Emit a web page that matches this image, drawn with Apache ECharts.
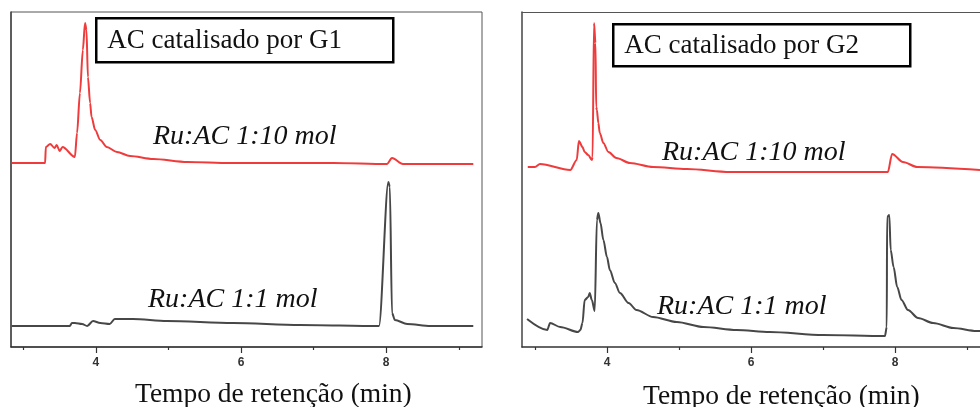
<!DOCTYPE html>
<html>
<head>
<meta charset="utf-8">
<script src="https://cdn.jsdelivr.net/npm/echarts@6/dist/echarts.min.js"></script>
<style>
  html, body { margin: 0; padding: 0; background: #fff; }
  #chart { width: 980px; height: 407px; }
</style>
</head>
<body>
<div id="chart"></div>
<script>
// Chromatograms, time in min vs detector signal (arbitrary units)
const g1Ratio10 = [
  [2.84, 184], [3.30, 184], [3.31, 200], [3.37, 203], [3.43, 199], [3.46, 202],
  [3.50, 196], [3.54, 200], [3.71, 190], [3.74, 214], [3.78, 254], [3.82, 297],
  [3.85, 324], [3.87, 317], [3.89, 270], [3.92, 244], [3.94, 230], [3.99, 217],
  [4.06, 207], [4.15, 200], [4.29, 195], [4.47, 191], [4.79, 188], [5.26, 185],
  [5.85, 184], [7.27, 184], [8.01, 183], [8.08, 189], [8.23, 183], [9.20, 183]
];
const g1Ratio1 = [
  [2.84, 21], [3.64, 21], [3.67, 24], [3.71, 24], [3.81, 23], [3.88, 21],
  [3.96, 26], [4.06, 24], [4.19, 23], [4.26, 28], [4.51, 28], [4.98, 26],
  [5.89, 24], [6.81, 22], [7.90, 21], [8.03, 165], [8.05, 160], [8.08, 34],
  [8.12, 27], [8.29, 23], [8.61, 21], [9.20, 21]
];
const g2Ratio10 = [
  [2.90, 180], [3.00, 180], [3.07, 183], [3.49, 177], [3.58, 187], [3.61, 206],
  [3.66, 200], [3.69, 195], [3.74, 192], [3.79, 187], [3.80, 190], [3.82, 324],
  [3.84, 304], [3.85, 240], [3.86, 237], [3.88, 224], [3.90, 214], [3.95, 204],
  [4.02, 195], [4.13, 189], [4.32, 184], [4.64, 180], [5.11, 178], [5.71, 175],
  [6.54, 175], [7.69, 175], [7.90, 175], [7.96, 193], [8.11, 185], [8.31, 180],
  [9.18, 177]
];
const g2Ratio1 = [
  [2.89, 28], [3.17, 17], [3.21, 24], [3.35, 20], [3.60, 15], [3.63, 17],
  [3.66, 24], [3.69, 47], [3.74, 50], [3.76, 54], [3.79, 47], [3.83, 36],
  [3.86, 127], [3.88, 134], [3.91, 124], [3.95, 107], [4.00, 90], [4.04, 77],
  [4.11, 64], [4.18, 54], [4.30, 44], [4.41, 37], [4.64, 30], [4.97, 25],
  [5.34, 20], [5.80, 17], [6.26, 15], [7.00, 12], [7.86, 11], [7.885, 20],
  [7.89, 130], [7.92, 132], [7.94, 97], [7.98, 80], [8.03, 60], [8.09, 47],
  [8.18, 37], [8.32, 29], [8.53, 24], [8.81, 19], [9.13, 16], [9.18, 16]
];
const majorTicks = [4, 6, 8];
const minorTicks = [3, 5, 7, 9];
const boxTitles = ['AC catalisado por G1', 'AC catalisado por G2'];
const traceLabels = ['Ru:AC 1:10 mol', 'Ru:AC 1:1 mol'];
const axisTitle = 'Tempo de retenção (min)';

const RED = '#ef3b3b';
const DARK = '#474747';
const SERIF = '"Liberation Serif", "Times New Roman", serif';

const chart = echarts.init(document.getElementById('chart'));

// visible time range of each panel (the right one is cut by the page edge)
const ranges = [[2.83, 9.32], [2.82, 9.18]];

function mainXAxis(i) {
  return {
    gridIndex: i,
    type: 'value',
    min: ranges[i][0],
    max: ranges[i][1],
    axisLine: { lineStyle: { color: '#333', width: 1.5 } },
    axisTick: { customValues: majorTicks, length: 6, lineStyle: { color: '#333', width: 1.2 } },
    axisLabel: {
      customValues: majorTicks,
      margin: 10,
      color: '#333',
      fontSize: 12,
      fontWeight: 'bold',
      fontFamily: 'Arial, "Liberation Sans", sans-serif'
    },
    splitLine: { show: false }
  };
}

function minorXAxis(i) {
  return {
    gridIndex: i,
    type: 'value',
    position: 'bottom',
    min: ranges[i][0],
    max: ranges[i][1],
    axisLine: { show: false },
    axisTick: { customValues: minorTicks, length: 3, lineStyle: { color: '#333', width: 1.2 } },
    axisLabel: { show: false },
    splitLine: { show: false }
  };
}

function yAxisFor(i) {
  return {
    gridIndex: i,
    type: 'value',
    min: 0,
    max: 335,
    axisLine: { show: true, lineStyle: { color: '#444', width: 1.5 } },
    axisTick: { show: false },
    axisLabel: { show: false },
    splitLine: { show: false }
  };
}

function trace(i, data, color) {
  return {
    type: 'line',
    xAxisIndex: i,
    yAxisIndex: i,
    data: data,
    showSymbol: false,
    smooth: 0.3,
    smoothMonotone: 'x',
    lineStyle: { color: color, width: 2 },
    silent: true,
    animation: false
  };
}

function boxGraphic(x, y, w, h, text) {
  return {
    type: 'group',
    left: x,
    top: y,
    children: [
      {
        type: 'rect',
        shape: { x: 0, y: 0, width: w, height: h },
        style: { fill: '#fff', stroke: '#000', lineWidth: 2.5 }
      },
      {
        type: 'text',
        x: 11,
        y: h / 2 + 1,
        style: {
          text: text,
          font: '27px ' + SERIF,
          fill: '#111',
          verticalAlign: 'middle'
        }
      }
    ]
  };
}

function labelGraphic(x, y, text) {
  return {
    type: 'text',
    x: x,
    y: y,
    style: {
      text: text,
      font: 'italic 28px ' + SERIF,
      fill: '#111',
      verticalAlign: 'middle'
    }
  };
}

function axisTitleGraphic(x, y) {
  return {
    type: 'text',
    x: x,
    y: y,
    style: {
      text: axisTitle,
      font: '27.5px ' + SERIF,
      fill: '#111',
      verticalAlign: 'middle'
    }
  };
}

chart.setOption({
  backgroundColor: '#fff',
  animation: false,
  grid: [
    { left: 11, width: 471, top: 12, height: 335, show: true, borderColor: '#555', borderWidth: 1 },
    { left: 522, width: 458, top: 12, height: 335, show: false }
  ],
  xAxis: [
    mainXAxis(0),
    mainXAxis(1),
    minorXAxis(0),
    minorXAxis(1),
    {
      // top frame line of the right panel
      gridIndex: 1,
      type: 'value',
      position: 'top',
      min: ranges[1][0],
      max: ranges[1][1],
      axisLine: { show: true, lineStyle: { color: '#555', width: 1 } },
      axisTick: { show: false },
      axisLabel: { show: false },
      splitLine: { show: false }
    }
  ],
  yAxis: [yAxisFor(0), yAxisFor(1)],
  series: [
    trace(0, g1Ratio10, RED),
    trace(0, g1Ratio1, DARK),
    trace(1, g2Ratio10, RED),
    trace(1, g2Ratio1, DARK)
  ],
  graphic: [
    boxGraphic(95, 17, 297, 44, boxTitles[0]),
    boxGraphic(612, 23, 297, 42, boxTitles[1]),
    labelGraphic(153, 137, traceLabels[0]),
    labelGraphic(148, 300, traceLabels[1]),
    labelGraphic(662, 153, traceLabels[0]),
    labelGraphic(657, 307, traceLabels[1]),
    axisTitleGraphic(135, 395),
    axisTitleGraphic(643, 397)
  ]
});
</script>
</body>
</html>
